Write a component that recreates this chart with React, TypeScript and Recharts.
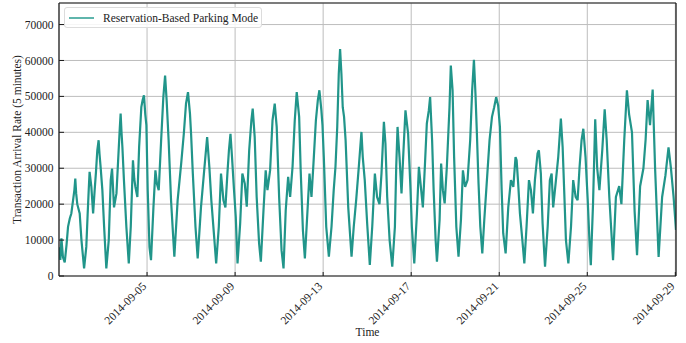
import { LineChart, Line, XAxis, YAxis, CartesianGrid } from "recharts";

const FONT = '"Liberation Serif", "DejaVu Serif", "Times New Roman", serif';
const INK = "#222222";
const TEAL = "#21958a";

const seriesName = "Reservation-Based Parking Mode";
const dateTicks = [5, 9, 13, 17, 21, 25, 29];
const rateTicks = [0, 10000, 20000, 30000, 40000, 50000, 60000, 70000];

// [day of September 2014, arrivals per 5 minutes]
const week1: [number, number][] = [
     [1.0, 8000], [1.06, 4500], [1.11, 10500], [1.18, 5200], [1.26, 3800], [1.34, 8500],
     [1.41, 13700], [1.49, 16000], [1.56, 17400], [1.64, 21100], [1.7, 24000], [1.74, 27100],
     [1.78, 23000], [1.83, 20000], [1.94, 17400], [2.02, 10000], [2.14, 2100], [2.24, 8100],
     [2.3, 17000], [2.35, 23900], [2.39, 29000], [2.47, 24800], [2.55, 17400], [2.62, 23900],
     [2.68, 29000], [2.74, 35000], [2.8, 37800], [2.84, 34000], [2.89, 30400], [2.97, 23900],
     [3.05, 13700], [3.15, 2100], [3.26, 10000], [3.35, 26700], [3.41, 29900], [3.5, 19100],
     [3.61, 23000], [3.71, 35000], [3.76, 41000], [3.8, 45200], [3.84, 40000], [3.88, 35900],
     [3.95, 26700], [4.06, 13700], [4.17, 3500], [4.26, 13700], [4.36, 32200], [4.42, 27000],
     [4.47, 24800], [4.56, 22000], [4.64, 35900], [4.74, 47000], [4.8, 49000], [4.86, 50300],
     [4.92, 45000], [4.97, 42000], [5.03, 23900], [5.11, 8100], [5.18, 4400], [5.29, 19100],
     [5.38, 29400], [5.45, 25700], [5.53, 23900], [5.64, 37800], [5.74, 49800], [5.82, 55800],
     [5.89, 48900], [5.98, 37800], [6.09, 21100], [6.24, 5400], [6.39, 21100], [6.55, 31300],
     [6.67, 39600], [6.77, 48000], [6.86, 51200], [6.95, 45200], [7.0, 39600], [7.08, 28500],
     [7.2, 13700], [7.3, 4900], [7.45, 19100], [7.61, 30400], [7.73, 38700], [7.83, 30400],
     [7.92, 21100], [8.06, 10000], [8.14, 3500],
];

const week2: [number, number][] = [
     [8.26, 13700], [8.36, 28500], [8.47, 21100], [8.56, 19100], [8.65, 28500], [8.72, 35000],
     [8.79, 39600], [8.86, 33100], [8.95, 24000], [9.03, 16500], [9.11, 3500], [9.23, 14600],
     [9.33, 28500], [9.44, 25700], [9.53, 19300], [9.64, 35000], [9.74, 43300], [9.8, 46600],
     [9.89, 38700], [9.98, 22000], [10.09, 9100], [10.17, 4000], [10.29, 18300], [10.39, 29400],
     [10.47, 23900], [10.59, 29400], [10.7, 43300], [10.8, 48000], [10.89, 41500], [11.0, 22000],
     [11.11, 7200], [11.2, 2100], [11.3, 18300], [11.41, 27600], [11.5, 22000], [11.61, 30400],
     [11.71, 43300], [11.8, 51200], [11.91, 44300], [11.98, 29400], [12.08, 12800], [12.17, 4900],
     [12.29, 18300], [12.38, 28500], [12.47, 22000], [12.56, 31300], [12.67, 43300], [12.76, 49000],
     [12.83, 51700], [12.92, 46100], [12.97, 42000], [13.03, 33100], [13.14, 13700], [13.26, 5400],
     [13.38, 13700], [13.48, 23900], [13.56, 30400], [13.64, 41500], [13.71, 56300], [13.77, 63200],
     [13.83, 56300], [13.89, 47000], [13.95, 44300], [14.02, 37800], [14.14, 19100], [14.29, 5400],
     [14.39, 13700], [14.5, 21100], [14.62, 30400], [14.74, 40100], [14.8, 33100], [14.89, 26700],
     [15.0, 14600], [15.12, 3100],
];

const week3: [number, number][] = [
     [15.23, 13700], [15.35, 28500], [15.45, 22000], [15.56, 20000], [15.65, 28500], [15.76, 42900],
     [15.83, 36900], [15.91, 22000], [16.02, 10000], [16.14, 2600], [16.26, 13700], [16.32, 30400],
     [16.38, 41500], [16.47, 33100], [16.56, 23000], [16.65, 35000], [16.74, 46100], [16.86, 39600],
     [16.97, 23900], [17.03, 13700], [17.14, 3500], [17.26, 17400], [17.35, 30400], [17.44, 24800],
     [17.53, 19100], [17.62, 30400], [17.71, 42400], [17.8, 46100], [17.86, 49800], [17.95, 37800],
     [18.02, 23900], [18.11, 10000], [18.17, 4000], [18.29, 15600], [18.36, 31300], [18.44, 23900],
     [18.52, 20200], [18.62, 30400], [18.74, 47000], [18.8, 58600], [18.88, 51700], [18.95, 33100],
     [19.05, 13700], [19.15, 5400], [19.26, 15600], [19.35, 29400], [19.45, 24800], [19.56, 26700],
     [19.68, 37800], [19.77, 51700], [19.85, 60200], [19.92, 50700], [19.98, 40500], [20.06, 25700],
     [20.14, 13700], [20.23, 6300], [20.32, 15600], [20.44, 26700], [20.56, 37800], [20.67, 44300],
     [20.77, 47000], [20.86, 49800], [20.95, 47500], [21.03, 41500], [21.11, 23900], [21.18, 11900],
     [21.29, 6300], [21.41, 19100], [21.53, 26700], [21.64, 24800], [21.74, 33100], [21.79, 32200],
     [21.86, 25700], [21.94, 17400], [22.05, 10000], [22.14, 3500],
];

const week4: [number, number][] = [
     [22.24, 13700], [22.35, 26700], [22.44, 23900], [22.53, 17400], [22.62, 26700], [22.74, 34100],
     [22.8, 35000], [22.89, 28500], [22.97, 14600], [23.08, 2600], [23.2, 13700], [23.3, 26700],
     [23.38, 28500], [23.45, 19100], [23.56, 25700], [23.68, 33100], [23.8, 43800], [23.88, 35900],
     [23.95, 23900], [24.03, 10000], [24.14, 3500], [24.26, 13700], [24.36, 26700], [24.47, 22000],
     [24.56, 21100], [24.65, 30400], [24.74, 37800], [24.82, 41000], [24.92, 33100], [25.02, 21100],
     [25.11, 8100], [25.16, 3000], [25.26, 20000], [25.36, 43600], [25.45, 30000], [25.55, 23900],
     [25.68, 35000], [25.79, 46400], [25.88, 38000], [26.0, 22000], [26.17, 4400], [26.3, 22000],
     [26.45, 25000], [26.55, 20000], [26.68, 38000], [26.8, 51700], [26.9, 45000], [27.03, 40000],
     [27.15, 18000], [27.26, 5800], [27.4, 25000], [27.55, 30000], [27.65, 38000], [27.74, 49000],
     [27.85, 42000], [27.97, 51900], [28.08, 30000], [28.24, 5300], [28.4, 22000], [28.55, 28000],
     [28.69, 35800], [28.8, 30000], [28.92, 22000], [29.03, 12800],
];

const chartData = [...week1, ...week2, ...week3, ...week4].map(([day, rate]) => ({ day, rate }));

const formatDate = (d: number) => `2014-09-${String(d).padStart(2, "0")}`;

function DateTick({ x, y, payload }: { x?: number; y?: number; payload?: { value: number } }) {
     return (
          <text
               x={x}
               y={y}
               transform={`rotate(-45 ${x} ${y})`}
               textAnchor="end"
               fill={INK}
               fontSize={11.5}
               fontFamily={FONT}
          >
               {formatDate(payload?.value ?? 0)}
          </text>
     );
}

function YTitle() {
     return (
          <text
               transform="translate(21 139.5) rotate(-90)"
               textAnchor="middle"
               fill={INK}
               fontSize={11.5}
               fontFamily={FONT}
          >
               Transaction Arrival Rate (5 minutes)
          </text>
     );
}

const spine = { stroke: "#1a1a1a", strokeWidth: 1.2 };
const tickMark = { stroke: "#1a1a1a", strokeWidth: 1 };

export default function App() {
     return (
          <div style={{ position: "absolute", left: 0, top: 0, width: 686, height: 343, background: "#fff" }}>
               <LineChart width={686} height={343} data={chartData} margin={{ top: 0, right: 0, left: 0, bottom: 0 }}>
                    <CartesianGrid stroke="#bdbdbd" strokeWidth={1} />
                    <XAxis
                         dataKey="day"
                         type="number"
                         domain={[1, 29.03]}
                         ticks={dateTicks}
                         allowDataOverflow
                         height={67}
                         axisLine={spine}
                         tickLine={tickMark}
                         tickSize={-4}
                         tickMargin={15}
                         tick={<DateTick />}
                         label={{ value: "Time", position: "insideBottom", offset: 7, fill: INK, fontSize: 11.5, fontFamily: FONT }}
                    />
                    <XAxis
                         xAxisId="top"
                         orientation="top"
                         dataKey="day"
                         type="number"
                         domain={[1, 29.03]}
                         ticks={dateTicks}
                         allowDataOverflow
                         height={3}
                         axisLine={spine}
                         tickLine={tickMark}
                         tickSize={-4}
                         tick={false}
                    />
                    <YAxis
                         type="number"
                         domain={[0, 76000]}
                         ticks={rateTicks}
                         allowDataOverflow
                         width={59}
                         axisLine={spine}
                         tickLine={tickMark}
                         tickSize={-5}
                         tickMargin={10.5}
                         tick={{ fill: INK, fontSize: 11.5, fontFamily: FONT }}
                         label={{ content: () => <YTitle /> }}
                    />
                    <YAxis
                         yAxisId="right"
                         orientation="right"
                         type="number"
                         domain={[0, 76000]}
                         ticks={rateTicks}
                         allowDataOverflow
                         width={10}
                         axisLine={spine}
                         tickLine={tickMark}
                         tickSize={-5}
                         tick={false}
                    />
                    <Line
                         type="linear"
                         dataKey="rate"
                         name={seriesName}
                         stroke={TEAL}
                         strokeWidth={2.2}
                         strokeLinejoin="miter"
                         strokeMiterlimit={3}
                         dot={false}
                         isAnimationActive={false}
                    />
               </LineChart>
               <div
                    style={{
                         position: "absolute",
                         left: 64,
                         top: 7,
                         width: 198,
                         height: 21,
                         boxSizing: "border-box",
                         border: "1px solid #dcdcdc",
                         borderRadius: 3,
                         background: "rgba(255,255,255,0.85)",
                         display: "flex",
                         alignItems: "center",
                         fontFamily: FONT,
                         fontSize: 11.5,
                         color: INK,
                    }}
               >
                    <span style={{ display: "inline-block", width: 25, height: 0, borderTop: "2px solid #5fb5ac", marginLeft: 4, marginRight: 9 }} />
                    <span style={{ whiteSpace: "nowrap" }}>{seriesName}</span>
               </div>
          </div>
     );
}
